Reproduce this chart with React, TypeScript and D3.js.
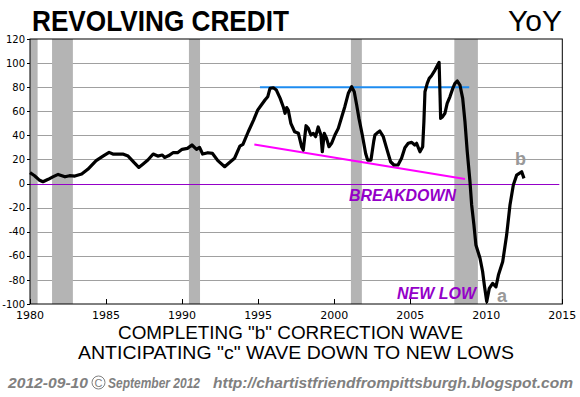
import React from 'react';
import * as d3 from 'd3';

// revolving consumer credit, YoY
const years = [
  1980.0, 1980.3, 1980.6, 1980.85, 1981.2, 1981.5, 1981.85, 1982.3, 1982.6, 1982.95,
  1983.4, 1983.8, 1984.35, 1984.8, 1985.2, 1985.45, 1986.1, 1986.45, 1986.85, 1987.15,
  1987.4, 1987.75, 1988.1, 1988.4, 1988.7, 1988.85, 1989.1, 1989.4, 1989.7, 1990.0,
  1990.35, 1990.65, 1990.95, 1991.15, 1991.35, 1991.7, 1992.0, 1992.35, 1992.8, 1993.1,
  1993.45, 1993.8, 1994.0, 1994.35, 1994.7, 1994.97, 1995.2, 1995.45, 1995.63, 1995.78,
  1996.0, 1996.2, 1996.45, 1996.65, 1996.77, 1996.88, 1996.98, 1997.15, 1997.4, 1997.65,
  1997.86, 1997.97, 1998.15, 1998.3, 1998.47, 1998.63, 1998.78, 1998.95, 1999.13, 1999.22,
  1999.35, 1999.5, 1999.66, 1999.83, 2000.05, 2000.27, 2000.5, 2000.7, 2000.93, 2001.15,
  2001.32, 2001.48, 2001.63, 2001.85, 2002.07, 2002.2, 2002.42, 2002.6, 2002.68, 2002.8,
  2003.0, 2003.23, 2003.45, 2003.71, 2003.93, 2004.2, 2004.43, 2004.65, 2004.87, 2005.1,
  2005.3, 2005.42, 2005.64, 2005.82, 2005.9, 2005.97, 2006.12, 2006.25, 2006.4, 2006.63,
  2006.9, 2006.96, 2007.0, 2007.13, 2007.28, 2007.43, 2007.61, 2007.8, 2007.94, 2008.1,
  2008.27, 2008.45, 2008.6, 2008.75, 2008.93, 2009.04, 2009.19, 2009.32, 2009.59, 2009.76,
  2009.87, 2010.03, 2010.2, 2010.42, 2010.64, 2010.8, 2011.08, 2011.34, 2011.56, 2011.78,
  2012.0, 2012.33, 2012.48,
];
const yoy = [
  9, 6.5, 3, 1.5, 3.5, 5.5, 7.6, 5.6, 6.5, 6.2,
  7.9, 11.8, 19, 22.8, 25.9, 24.5, 24.5, 22.8, 17.3, 13.4,
  15.9, 19.5, 24.5, 22.8, 23.7, 21.7, 23, 25.6, 25.6, 28.4,
  29.2, 32, 28.4, 30, 24.5, 25.6, 25, 19, 14, 17.3,
  21, 31, 32.5, 43, 52.7, 61, 65, 69.3, 72, 79,
  79.5, 77.6, 70.7, 63.8, 58.3, 63, 61, 50, 43, 41.7,
  30.6, 27.8, 48, 45.8, 40.3, 41.7, 38.9, 47, 40.3, 26.4,
  41.7, 37.5, 30.6, 33.4, 40.3, 45.8, 55.5, 63.8, 74.9, 80.4,
  76.2, 65.2, 54.1, 40.3, 25, 19.5, 19.5, 35, 40.3, 41.7,
  43.6, 38.9, 29.2, 18.1, 15.4, 15.4, 21, 29.7, 33.4, 34.2,
  32, 33.4, 26.4, 30.6, 51.3, 76.2, 83.2, 87.3, 89.5, 94.2,
  100.6, 73.5, 54.1, 55.5, 58.3, 66.6, 72, 79, 83.2, 85.1,
  81.8, 70.7, 51.3, 26.4, 1.5, -17.8, -34.5, -51, -62, -73,
  -84, -98, -87, -82.9, -85.7, -76, -65, -42.8, -17.8, -1.2,
  7, 9.8, 4.3,
];

const recessionStart = [1980.0, 1981.45, 1990.45, 2001.1, 2007.9];
const recessionEnd = [1980.5, 1982.82, 1991.18, 2001.82, 2009.45];

const yTicks = [-100, -80, -60, -40, -20, 0, 20, 40, 60, 80, 100, 120];
const xTicks = [1980, 1985, 1990, 1995, 2000, 2005, 2010, 2015];

// trend lines drawn on the chart
const topLineX = [1995.12, 2008.88];
const topLineY = [80, 80];
const lowLineX = [1994.75, 2008.6];
const lowLineY = [32.5, 3.8];

const W = 580;
const H = 397;
const left = 30;
const right = 562.3;
const top = 39;
const bottom = 304;

export default function App() {
  const x = d3.scaleLinear().domain([1980, 2015]).range([left, right]);
  const y = d3.scaleLinear().domain([-100, 120]).range([bottom, top]);

  const pts: [number, number][] = years.map((t, i) => [t, yoy[i]]);
  const line = d3.line<[number, number]>()
    .x(d => x(d[0]))
    .y(d => y(d[1]));

  const purple = '#9400c8';
  const grey = '#808080';
  const sans = 'Liberation Sans, Arial, sans-serif';
  const tickFont = 'DejaVu Sans, Verdana, sans-serif';

  return (
    <svg width={W} height={H} style={{ position: 'absolute', left: 0, top: 0, background: '#fff' }}>
      <rect x={0} y={0} width={W} height={H} fill="#fff" />

      {/* grid */}
      {yTicks.filter(v => v !== 0 && v !== 120 && v !== -100).map(v => (
        <line key={'g' + v} x1={left} x2={right} y1={Math.round(y(v)) + 0.5} y2={Math.round(y(v)) + 0.5}
          stroke="#a0a0a0" strokeWidth={1} />
      ))}

      {/* recessions */}
      {recessionStart.map((s, i) => (
        <rect key={'r' + i} x={x(s)} width={x(recessionEnd[i]) - x(s)} y={top} height={bottom - top}
          fill="#b4b4b4" />
      ))}

      {/* zero line */}
      <line x1={left} x2={right - 3} y1={Math.round(y(0)) + 0.5} y2={Math.round(y(0)) + 0.5}
        stroke={purple} strokeWidth={1} />

      {/* trend lines */}
      <line x1={x(topLineX[0])} x2={x(topLineX[1])} y1={y(topLineY[0])} y2={y(topLineY[1])}
        stroke="#1e8cf0" strokeWidth={2} />
      <line x1={x(lowLineX[0])} x2={x(lowLineX[1])} y1={y(lowLineY[0])} y2={y(lowLineY[1])}
        stroke="#ff00ff" strokeWidth={2} />

      {/* frame */}
      <rect x={left} y={top} width={right - left} height={bottom - top} fill="none" stroke="#000" strokeWidth={1} />

      {/* y axis */}
      {yTicks.map(v => (
        <g key={'y' + v}>
          <line x1={left - 3} x2={left} y1={Math.round(y(v)) + 0.5} y2={Math.round(y(v)) + 0.5} stroke="#000" />
          <text x={left - 5} y={y(v) + 3.6} textAnchor="end" fontFamily={tickFont} fontSize={10} fill="#000">{v}</text>
        </g>
      ))}

      {/* x axis */}
      {xTicks.map(t => (
        <g key={'x' + t}>
          <line x1={Math.round(x(t)) + 0.5} x2={Math.round(x(t)) + 0.5} y1={bottom} y2={bottom - 5} stroke="#000" />
          <text x={x(t)} y={bottom + 14.5} textAnchor="middle" fontFamily={tickFont} fontSize={11} fill="#000">{t}</text>
        </g>
      ))}

      {/* data */}
      <path d={line(pts) || ''} fill="none" stroke="#000" strokeWidth={3.2} strokeLinejoin="round" />

      {/* annotations */}
      <text x={349} y={200.5} fontFamily={sans} fontSize={16} fontWeight="bold" fontStyle="italic" fill={purple}
        textLength={107} lengthAdjust="spacingAndGlyphs">BREAKDOWN</text>
      <text x={397} y={299} fontFamily={sans} fontSize={16} fontWeight="bold" fontStyle="italic" fill={purple}
        textLength={79} lengthAdjust="spacingAndGlyphs">NEW LOW</text>
      <text x={497} y={301.5} fontFamily={sans} fontSize={18} fontWeight="bold" fill="#999">a</text>
      <text x={515} y={165} fontFamily={sans} fontSize={18} fontWeight="bold" fill="#999">b</text>

      {/* titles */}
      <text x={32} y={30.5} fontFamily={sans} fontSize={30} fontWeight="bold" fill="#000"
        textLength={257} lengthAdjust="spacingAndGlyphs">REVOLVING CREDIT</text>
      <text x={562} y={30.5} textAnchor="end" fontFamily={sans} fontSize={30} fill="#000">YoY</text>

      <text x={118} y={338.5} fontFamily={sans} fontSize={18} fill="#000"
        textLength={345} lengthAdjust="spacingAndGlyphs">COMPLETING "b" CORRECTION WAVE</text>
      <text x={78} y={358.8} fontFamily={sans} fontSize={18} fill="#000"
        textLength={436} lengthAdjust="spacingAndGlyphs">ANTICIPATING "c" WAVE DOWN TO NEW LOWS</text>

      {/* footer */}
      <text x={8} y={388} fontFamily={sans} fontSize={14} fontWeight="bold" fontStyle="italic" fill={grey}
        textLength={80} lengthAdjust="spacingAndGlyphs">2012-09-10</text>
      <circle cx={98.5} cy={382.5} r={6.5} fill="none" stroke={grey} strokeWidth={1} />
      <text x={98.5} y={386.5} textAnchor="middle" fontFamily={sans} fontSize={11} fill={grey}>C</text>
      <text x={108} y={388} fontFamily={sans} fontSize={14} fontWeight="bold" fontStyle="italic" fill={grey}
        textLength={92} lengthAdjust="spacingAndGlyphs">September 2012</text>
      <text x={213} y={388} fontFamily={sans} fontSize={14} fontWeight="bold" fontStyle="italic" fill={grey}
        textLength={360} lengthAdjust="spacingAndGlyphs">http://chartistfriendfrompittsburgh.blogspot.com</text>
    </svg>
  );
}
